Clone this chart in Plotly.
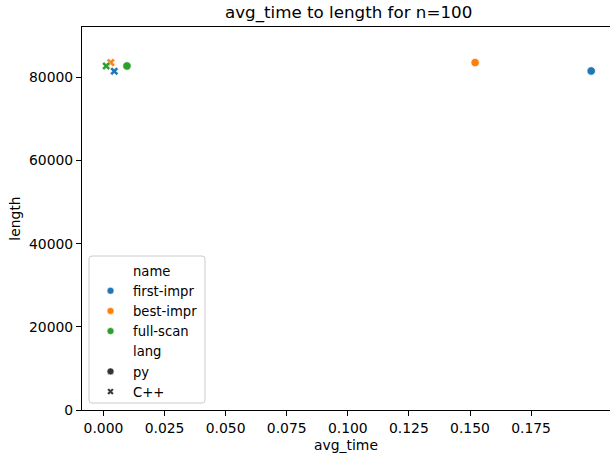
import plotly.graph_objects as go

# Mean run time (s) and resulting tour length per heuristic, n=100
names = ["first-impr", "best-impr", "full-scan"]
colors = ["#1f77b4", "#ff7f0e", "#2ca02c"]
langs = ["py", "C++"]
avg_time_py = [0.1996, 0.1521, 0.0096]
avg_time_cpp = [0.0044, 0.0030, 0.0011]
length_py = [81560, 83580, 82760]
length_cpp = [81500, 83580, 82760]

x_ticks = [0.0, 0.025, 0.05, 0.075, 0.1, 0.125, 0.15, 0.175]
x_tick_text = ["0.000", "0.025", "0.050", "0.075", "0.100", "0.125", "0.150", "0.175"]
y_ticks = [0, 20000, 40000, 60000, 80000]

FONT = "DejaVu Sans"
TICK_PX = 13.9
TITLE_PX = 16.7
DARK = "#333333"

fig = go.Figure()

# data points: circles for Python, filled crosses for C++
for nm, col, xp, yp, xc, yc in zip(names, colors, avg_time_py, length_py,
                                   avg_time_cpp, length_cpp):
    fig.add_trace(go.Scatter(
        x=[xp], y=[yp], mode="markers", showlegend=False,
        marker=dict(symbol="circle", size=8.5, color=col,
                    line=dict(color="white", width=0.8)),
        hoverinfo="skip"))
    fig.add_trace(go.Scatter(
        x=[xc], y=[yc], mode="markers", showlegend=False,
        marker=dict(symbol="x", size=7.5, color=col,
                    line=dict(color="white", width=0.6)),
        hoverinfo="skip"))

# legend entries: section headers have no visible handle
def legend_entry(label, symbol="circle", color="rgba(0,0,0,0)", size=7):
    fig.add_trace(go.Scatter(
        x=[None], y=[None], mode="markers", name=label,
        marker=dict(symbol=symbol, size=size, color=color,
                    line=dict(color="white", width=0.6))))

legend_entry("name")
for nm, col in zip(names, colors):
    legend_entry(nm, color=col)
legend_entry("lang")
legend_entry(langs[0], "circle", DARK)
legend_entry(langs[1], "x", DARK, 6)

L, R, T, B = 82, 1, 27, 43
W, H = 611, 453
plot_w = W - L - R
plot_h = H - T - B

# rounded legend frame (pixel coords converted to paper)
def px_x(p):
    return (p - L) / plot_w

def px_y(p):
    return (H - B - p) / plot_h

x0, x1, y0, y1 = px_x(89), px_x(205), px_y(403), px_y(256)
rx, ry = 3 / plot_w, 3 / plot_h
frame_path = (
    f"M {x0+rx},{y0} L {x1-rx},{y0} Q {x1},{y0} {x1},{y0+ry} "
    f"L {x1},{y1-ry} Q {x1},{y1} {x1-rx},{y1} L {x0+rx},{y1} "
    f"Q {x0},{y1} {x0},{y1-ry} L {x0},{y0+ry} Q {x0},{y0} {x0+rx},{y0} Z"
)
fig.add_shape(type="path", path=frame_path, xref="paper", yref="paper",
              line=dict(color="#cccccc", width=1),
              fillcolor="rgba(255,255,255,0.8)", layer="above")

fig.add_annotation(text="avg_time to length for n=100", x=px_x(348.5), y=1,
                   xref="paper", yref="paper", xanchor="center",
                   yanchor="bottom", yshift=2, showarrow=False,
                   font=dict(family=FONT, size=TITLE_PX, color="black"))

axis_common = dict(
    showline=True, linecolor="black", linewidth=1.1,
    ticks="outside", ticklen=5, tickwidth=1.1, tickcolor="black",
    showgrid=False, zeroline=False,
    tickfont=dict(family=FONT, size=TICK_PX, color="black"),
    title_font=dict(family=FONT, size=TICK_PX, color="black"),
)

fig.update_layout(
    width=W, height=H,
    margin=dict(l=L, r=R, t=T, b=B, pad=0),
    paper_bgcolor="white", plot_bgcolor="white",
    font=dict(family=FONT, size=TICK_PX, color="black"),
    xaxis=dict(range=[-0.0088, 0.2073], tickvals=x_ticks,
               ticktext=x_tick_text, mirror=True,
               title=dict(text="avg_time", standoff=7), **axis_common),
    yaxis=dict(range=[0, 92140], tickvals=y_ticks, tickformat="d",
               title=dict(text="length", standoff=5), **axis_common),
    legend=dict(x=px_x(88), y=px_y(255.5), xanchor="left", yanchor="top",
                bgcolor="rgba(0,0,0,0)", borderwidth=0,
                font=dict(family=FONT, size=13.2, color="black"),
                itemsizing="trace", itemwidth=35, tracegroupgap=0),
    showlegend=True,
)

fig.write_html("out.html")
